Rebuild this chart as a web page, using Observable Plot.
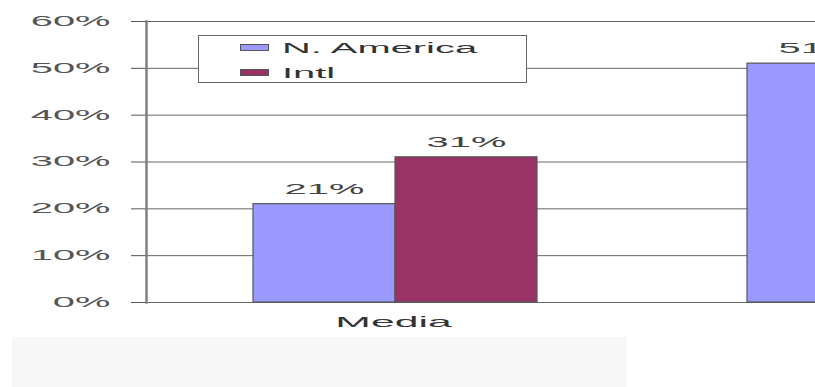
<!DOCTYPE html>
<html>
<head>
<meta charset="utf-8">
<script src="https://cdn.jsdelivr.net/npm/d3@7"></script>
<script src="https://cdn.jsdelivr.net/npm/@observablehq/plot@0.6"></script>
<style>
  html, body { margin: 0; padding: 0; background: #fff; overflow: hidden; }
  #wrap { position: relative; width: 815px; height: 387px; overflow: hidden;
          font-family: "Liberation Sans", Arial, sans-serif; }
  #wrap svg { overflow: hidden; display: block; }
  #band { margin-left: 12px; width: 615px; height: 50px; background: #f7f7f7; }
  .legend { position: absolute; left: 198px; top: 35px; width: 329px; height: 48px;
            box-sizing: border-box; border: 1.5px solid #666; background: #fff; }
  .legend .rows { position: absolute; left: 41px; top: -1px; }
  .legend .row { height: 25px; display: flex; align-items: center; }
  .legend .sw { width: 29px; height: 7px; box-sizing: border-box; border: 1px solid #555; margin-right: 13px; }
  .legend .lab { display: inline-block; font-size: 14px; color: #333; white-space: nowrap;
                 transform: scaleX(2.85); transform-origin: left center; }
</style>
</head>
<body>
<div id="wrap"></div>
<script>
// ---- data ----
const categories = ["Media", ""];          // second category's label is outside the visible area
const series = ["N. America", "Intl"];
const naValues = [0.21, 0.51];
const intlValues = [0.31, null];            // second Intl bar is not visible
const yTicks = [0, 0.1, 0.2, 0.3, 0.4, 0.5, 0.6];
const colors = ["#9999FF", "#993366"];

const data = [];
categories.forEach((c, i) => {
  if (naValues[i] != null) data.push({category: c, series: series[0], value: naValues[i]});
  if (intlValues[i] != null) data.push({category: c, series: series[1], value: intlValues[i]});
});
const pct = d3.format(".0%");
const STRETCH = 2.85;

const chart = Plot.plot({
  width: 815,
  height: 337,
  marginLeft: 146,
  marginRight: 0,
  marginTop: 21,
  marginBottom: 35,
  style: {fontFamily: "Liberation Sans, Arial, sans-serif", fontSize: "14px", background: "transparent"},
  fx: {domain: categories, range: [146, 1134], padding: 0, label: null},
  x: {domain: series, range: [252, 537], padding: 0, axis: null},
  y: {domain: [0, 0.6]},
  color: {domain: series, range: colors},
  marks: [
    Plot.ruleY(yTicks, {stroke: "#666", strokeWidth: 1}),
    Plot.barY(data, {fx: "category", x: "series", y: "value", fill: "series", stroke: "#555", strokeWidth: 1.2}),
    Plot.text(data, {fx: "category", x: "series", y: "value", text: d => pct(d.value), dy: -15, fill: "#444", fontSize: 14}),
    Plot.axisY({ticks: yTicks, tickFormat: pct, tickSize: 15, tickPadding: 21, color: "#555", fontSize: 14, label: null}),
    Plot.axisFx({anchor: "bottom", tickSize: 0, tickPadding: 14, fontSize: 15, color: "#333", label: null}),
    Plot.frame({anchor: "left", facetAnchor: "left", stroke: "#808080", strokeWidth: 2.5})
  ]
});

const svg = chart.tagName && chart.tagName.toLowerCase() === "svg" ? chart : chart.querySelector("svg");
d3.select(svg).selectAll("text").each(function () {
  const t = this.getAttribute("transform");
  if (t) this.setAttribute("transform", t + ` scale(${STRETCH},1)`);
  else {
    const x = parseFloat(this.getAttribute("x")) || 0;
    this.setAttribute("transform", `translate(${x},0) scale(${STRETCH},1) translate(${-x},0)`);
  }
});

const wrap = document.getElementById("wrap");
wrap.appendChild(chart);
const band = document.createElement("div");
band.id = "band";
wrap.appendChild(band);

// legend built from the plot's color scale
const color = chart.scale("color");
const leg = d3.select(wrap).append("div").attr("class", "legend");
const rows = leg.append("div").attr("class", "rows");
color.domain.forEach((s, i) => {
  const r = rows.append("div").attr("class", "row");
  r.append("div").attr("class", "sw").style("background", color.range[i]);
  r.append("span").attr("class", "lab").text(s);
});
</script>
</body>
</html>
